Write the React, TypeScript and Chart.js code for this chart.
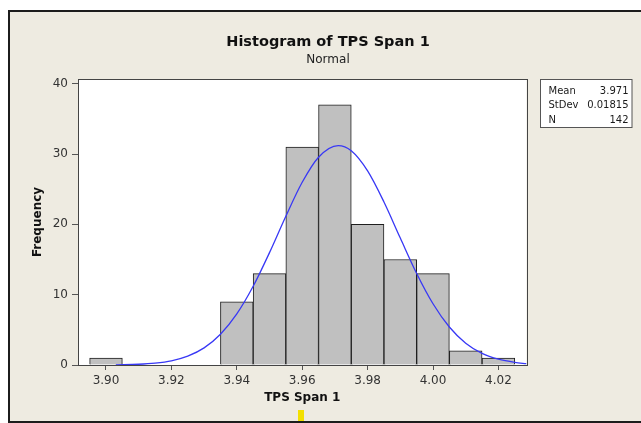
import React, { useEffect, useRef } from "react";
import { Chart, registerables } from "chart.js";

Chart.register(...registerables);

// ---- data ----
const binCenters = [3.9, 3.94, 3.95, 3.96, 3.97, 3.98, 3.99, 4.0, 4.01, 4.02];
const counts = [1, 9, 13, 31, 37, 20, 15, 13, 2, 1];

const curveX = [
  3.903, 3.91, 3.915, 3.92, 3.925, 3.93, 3.935, 3.94, 3.945, 3.95, 3.955, 3.96, 3.965,
  3.971, 3.975, 3.98, 3.985, 3.99, 3.995, 4.0, 4.005, 4.01, 4.015, 4.02, 4.025, 4.0286,
];
const curveY = [
  0.03, 0.11, 0.27, 0.6, 1.26, 2.43, 4.37, 7.26, 11.19, 15.98, 21.16, 25.98, 29.55,
  31.2, 30.46, 27.6, 23.18, 18.05, 13.02, 8.71, 5.4, 3.1, 1.65, 0.82, 0.37, 0.19,
];

const xTickValues = [3.9, 3.92, 3.94, 3.96, 3.98, 4.0, 4.02];
const yTickValues = [0, 10, 20, 30, 40];

const statLabels = ["Mean", "StDev", "N"];
const statValues = ["3.971", "0.01815", "142"];

const chartTitle = "Histogram of TPS Span 1";
const chartSubtitle = "Normal";
const xTitle = "TPS Span 1";
const yTitle = "Frequency";

const FONT = '"DejaVu Sans", sans-serif';

export default function App() {
  const ref = useRef<HTMLCanvasElement>(null);

  useEffect(() => {
    const canvas = ref.current;
    if (!canvas) return;

    const decor = {
      id: "decor",
      beforeDraw(chart: any) {
        const ctx = chart.ctx as CanvasRenderingContext2D;
        const { width, height } = chart;
        const a = chart.chartArea;
        ctx.save();
        ctx.fillStyle = "#ffffff";
        ctx.fillRect(0, 0, width, height);
        ctx.fillStyle = "rgb(238,235,225)";
        ctx.fillRect(10, 12, width - 10, 409);
        ctx.fillStyle = "#1c1c1c";
        ctx.fillRect(8, 10, width - 8, 2);
        ctx.fillRect(8, 10, 2, height - 10);
        ctx.fillRect(8, 421, width - 8, 2);
        ctx.fillStyle = "#ffffff";
        ctx.fillRect(a.left, a.top, a.right - a.left, a.bottom - a.top);
        ctx.restore();
      },
      afterDraw(chart: any) {
        const ctx = chart.ctx as CanvasRenderingContext2D;
        const a = chart.chartArea;
        ctx.save();
        // plot frame
        ctx.strokeStyle = "#444";
        ctx.lineWidth = 1;
        const l = Math.round(a.left) + 0.5;
        const t = Math.round(a.top) + 0.5;
        const r = Math.round(a.right) + 0.5;
        const b = Math.round(a.bottom) + 0.5;
        ctx.strokeRect(l, t, r - l, b - t);

        // titles
        ctx.fillStyle = "#111";
        ctx.textAlign = "center";
        ctx.textBaseline = "alphabetic";
        ctx.font = `bold 14.5px ${FONT}`;
        ctx.fillText(chartTitle, 328, 46);
        ctx.font = `12px ${FONT}`;
        ctx.fillStyle = "#222";
        ctx.fillText(chartSubtitle, 328, 63);

        // stats box
        ctx.fillStyle = "#ffffff";
        ctx.fillRect(540.5, 79.5, 91.5, 48);
        ctx.strokeStyle = "#555";
        ctx.strokeRect(540.5, 79.5, 91.5, 48);
        ctx.font = `10px ${FONT}`;
        ctx.fillStyle = "#1a1a1a";
        const baselines = [94, 108, 122.5];
        statLabels.forEach((lab, i) => {
          ctx.textAlign = "left";
          ctx.fillText(lab, 548.5, baselines[i]);
          ctx.textAlign = "right";
          ctx.fillText(statValues[i], 628.5, baselines[i]);
        });

        // small yellow marker at bottom
        ctx.fillStyle = "#f3e000";
        ctx.fillRect(298, 410, 6, 11);
        ctx.restore();
      },
    };

    const chart = new Chart(canvas, {
      type: "bar",
      data: {
        datasets: [
          {
            type: "line",
            label: "Normal fit",
            data: curveX.map((x, i) => ({ x, y: curveY[i] })),
            borderColor: "#3838f5",
            borderWidth: 1.3,
            pointRadius: 0,
            cubicInterpolationMode: "monotone",
            fill: false,
            order: 0,
          } as any,
          {
            type: "bar",
            label: yTitle,
            data: binCenters.map((x, i) => ({ x, y: counts[i] })),
            backgroundColor: "#c0c0c0",
            borderColor: "#1e1e1e",
            borderWidth: 1,
            barPercentage: 1,
            categoryPercentage: 1,
            order: 1,
          } as any,
        ],
      },
      options: {
        responsive: false,
        animation: false,
        devicePixelRatio: 1,
        layout: { padding: { top: 79, right: 114.5, left: 0, bottom: 0 } },
        plugins: {
          legend: { display: false },
          title: { display: false },
          tooltip: { enabled: false },
        },
        scales: {
          x: {
            type: "linear",
            min: 3.89144,
            max: 4.02859,
            offset: false,
            grid: {
              offset: false,
              drawOnChartArea: false,
              drawTicks: true,
              tickLength: 5,
              color: "#555",
            },
            border: { display: false },
            afterBuildTicks: (s: any) => {
              s.ticks = xTickValues.map((v) => ({ value: v }));
            },
            afterFit: (s: any) => {
              s.height = 58;
            },
            ticks: {
              padding: 3.5,
              autoSkip: false,
              maxRotation: 0,
              minRotation: 0,
              font: { family: FONT, size: 12 },
              color: "#333",
              callback: (v: any) => Number(v).toFixed(2),
            },
            title: {
              display: true,
              text: xTitle,
              font: { family: FONT, size: 12, weight: "bold" },
              color: "#111",
              padding: { top: 0, bottom: 17.5 },
            },
          },
          y: {
            type: "linear",
            min: 0,
            max: 40.67,
            grid: {
              drawOnChartArea: false,
              drawTicks: true,
              tickLength: 6,
              color: "#555",
            },
            border: { display: false },
            afterBuildTicks: (s: any) => {
              s.ticks = yTickValues.map((v) => ({ value: v }));
            },
            afterFit: (s: any) => {
              s.width = 78;
            },
            ticks: {
              padding: 4,
              font: { family: FONT, size: 12 },
              color: "#333",
              callback: (v: any) => String(v),
            },
            title: {
              display: true,
              text: yTitle,
              font: { family: FONT, size: 12, weight: "bold" },
              color: "#111",
              padding: { top: 30.3, bottom: 0 },
            },
          },
        },
      } as any,
      plugins: [decor],
    });

    return () => chart.destroy();
  }, []);

  return (
    <div style={{ position: "fixed", left: 0, top: 0, width: 641, height: 423 }}>
      <canvas ref={ref} width={641} height={423} style={{ display: "block", width: 641, height: 423 }} />
    </div>
  );
}
